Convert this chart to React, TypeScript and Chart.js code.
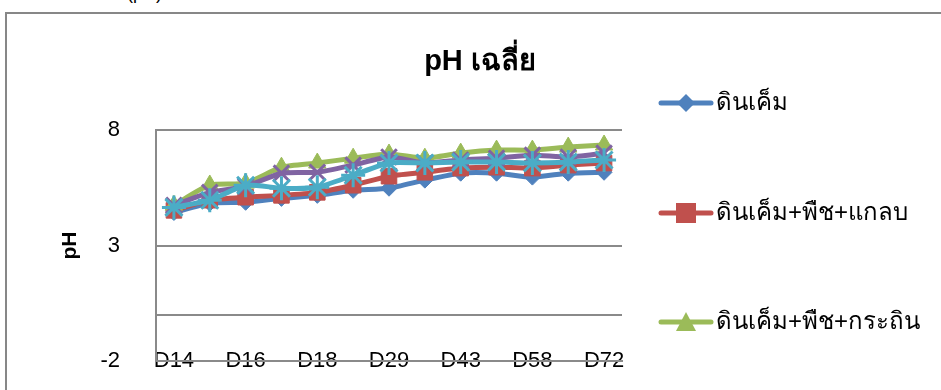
import React, { useEffect, useRef } from "react";
import { Chart, registerables } from "chart.js";

Chart.register(...registerables);

const categories = ["D14", "D15", "D16", "D17", "D18", "D21", "D29", "D36", "D43", "D50", "D58", "D65", "D72"];
const shownLabels = ["D14", "D16", "D18", "D29", "D43", "D58", "D72"];

const seriesNames = [
  "ดินเค็ม",
  "ดินเค็ม+พืช+แกลบ",
  "ดินเค็ม+พืช+กระถิน",
  "ดินเค็ม+พืช+ขี้เลื่อย",
  "ดินเค็ม+พืช+ปุ๋ยคอก",
];

const soil = [4.43, 4.83, 4.87, 5.04, 5.17, 5.39, 5.48, 5.83, 6.13, 6.13, 5.96, 6.13, 6.17];
const soilHusk = [4.52, 4.96, 5.09, 5.17, 5.3, 5.61, 6.0, 6.17, 6.35, 6.39, 6.35, 6.48, 6.57];
const soilLeucaena = [4.74, 5.62, 5.7, 6.39, 6.57, 6.78, 6.96, 6.78, 7.0, 7.13, 7.13, 7.26, 7.35];
const soilSeries4 = [4.74, 5.3, 5.56, 6.13, 6.17, 6.48, 6.83, 6.57, 6.7, 6.78, 6.91, 6.83, 7.0];
const soilSeries5 = [4.65, 4.96, 5.61, 5.48, 5.52, 6.04, 6.57, 6.57, 6.61, 6.61, 6.57, 6.61, 6.7];

const yTicks = [-2, 0, 3, 8];
const yLabelTicks = [-2, 3, 8];

const colors = ["#4F81BD", "#C0504D", "#9BBB59", "#8064A2", "#4BACC6"];
const styles = ["rectRot", "rect", "triangle", "crossRot", "star"];
const radii = [8, 11, 10, 11, 12];

const FONT = "'Liberation Sans', Arial, sans-serif";

const overlayPlugin = {
  id: "overlay",
  afterDraw(chart: any) {
    const ctx = chart.ctx;
    ctx.save();
    // title
    ctx.fillStyle = "#000";
    ctx.font = `bold 29px ${FONT}`;
    ctx.textAlign = "center";
    ctx.textBaseline = "middle";
    ctx.fillText("pH เฉลี่ย", 480, 62);
    // legend (first three series)
    const ys = [103, 213, 322];
    for (let i = 0; i < 3; i++) {
      const ds = chart.data.datasets[i];
      const y = ys[i];
      ctx.strokeStyle = ds.borderColor;
      ctx.lineWidth = 5;
      ctx.lineCap = "round";
      ctx.beginPath();
      ctx.moveTo(661, y);
      ctx.lineTo(711, y);
      ctx.stroke();
      ctx.fillStyle = ds.borderColor;
      ctx.lineWidth = 1;
      const r = 9;
      ctx.beginPath();
      if (i === 0) {
        ctx.moveTo(686, y - r);
        ctx.lineTo(686 + r, y);
        ctx.lineTo(686, y + r);
        ctx.lineTo(686 - r, y);
        ctx.closePath();
      } else if (i === 1) {
        ctx.rect(686 - 10, y - 10, 20, 20);
      } else {
        ctx.moveTo(686, y - 10);
        ctx.lineTo(686 + 10, y + 9);
        ctx.lineTo(686 - 10, y + 9);
        ctx.closePath();
      }
      ctx.fill();
      ctx.fillStyle = "#000";
      ctx.font = `24px ${FONT}`;
      ctx.textAlign = "left";
      ctx.textBaseline = "middle";
      ctx.fillText(seriesNames[i], 716, y);
    }
    ctx.restore();
  },
};

export default function App() {
  const canvasRef = useRef<HTMLCanvasElement>(null);

  useEffect(() => {
    const data = [soil, soilHusk, soilLeucaena, soilSeries4, soilSeries5];
    const chart = new Chart(canvasRef.current as HTMLCanvasElement, {
      type: "line",
      data: {
        labels: categories,
        datasets: data.map((d, i) => ({
          label: seriesNames[i],
          data: d,
          borderColor: colors[i],
          backgroundColor: colors[i],
          pointBackgroundColor: colors[i],
          pointBorderColor: colors[i],
          pointStyle: styles[i] as any,
          pointRadius: radii[i],
          pointBorderWidth: i >= 3 ? 3 : 1,
          borderWidth: 5,
          tension: 0.2,
          order: 4 - i,
          clip: false as any,
        })),
      },
      options: {
        animation: false,
        responsive: false,
        layout: { padding: { left: 0, top: 130, right: 319, bottom: 0 } },
        plugins: {
          legend: { display: false },
          title: { display: false },
          tooltip: { enabled: false },
        },
        scales: {
          x: {
            offset: true,
            grid: { display: false, drawTicks: false },
            border: { display: true, color: "#8a8a8a", width: 2, z: 1 },
            ticks: {
              autoSkip: false,
              maxRotation: 0,
              mirror: true,
              padding: -13,
              color: "#000",
              font: { size: 22, family: FONT },
              callback: (_v: any, i: number) =>
                shownLabels.includes(categories[i]) ? categories[i] : "",
            },
            afterFit: (s: any) => {
              s.height = 29;
              s.paddingLeft = 0;
              s.paddingRight = 0;
              s.paddingTop = 0;
              s.paddingBottom = 0;
            },
          },
          y: {
            min: -2,
            max: 8,
            afterBuildTicks: (s: any) => {
              s.ticks = yTicks.map((v) => ({ value: v }));
            },
            grid: { color: "#8a8a8a", lineWidth: 2, drawTicks: false },
            border: { display: true, color: "#8a8a8a", width: 2 },
            ticks: {
              padding: 36,
              color: "#000",
              font: { size: 22, family: FONT },
              callback: (v: any) => (yLabelTicks.includes(v) ? String(v) : ""),
            },
            title: {
              display: true,
              text: "pH",
              color: "#000",
              font: { size: 21, weight: "bold", family: FONT },
              padding: { top: 58, bottom: 0 },
            },
            afterFit: (s: any) => {
              s.width = 156;
              s.paddingTop = 0;
              s.paddingBottom = 0;
              s.paddingLeft = 0;
              s.paddingRight = 0;
            },
          },
        },
      },
      plugins: [overlayPlugin],
    });
    return () => chart.destroy();
  }, []);

  return (
    <div
      style={{
        position: "fixed",
        left: 0,
        top: 0,
        width: 941,
        height: 390,
        overflow: "hidden",
        background: "#fff",
      }}
    >
      <span
        style={{
          position: "absolute",
          left: 127,
          top: -17,
          fontFamily: FONT,
          fontSize: 18,
          color: "#000",
        }}
      >
        (pH)
      </span>
      <div
        style={{
          position: "absolute",
          left: 5,
          top: 12,
          width: 1000,
          height: 500,
          border: "2px solid #878787",
          boxSizing: "border-box",
        }}
      />
      <canvas
        ref={canvasRef}
        width={941}
        height={390}
        style={{ position: "absolute", left: 0, top: 0, width: 941, height: 390 }}
      />
    </div>
  );
}
